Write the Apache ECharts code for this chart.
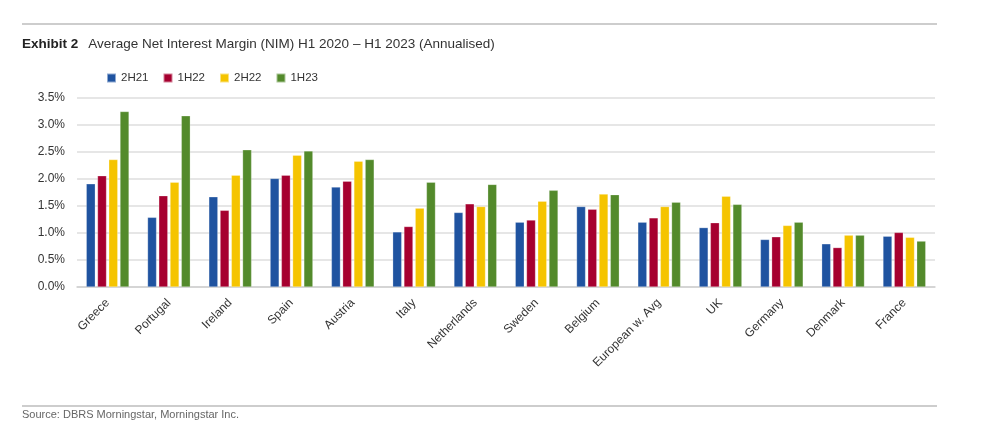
<!DOCTYPE html>
<html>
<head>
<meta charset="utf-8">
<script src="https://cdn.jsdelivr.net/npm/echarts@6/dist/echarts.min.js"></script>
<style>
html,body{margin:0;padding:0;background:#fff;}
#c{width:987px;height:438px;}
</style>
</head>
<body>
<div id="c"></div>
<script>
const categories = ["Greece","Portugal","Ireland","Spain","Austria","Italy","Netherlands","Sweden","Belgium","European w. Avg","UK","Germany","Denmark","France"];
const s2H21 = [1.91,1.29,1.67,2.01,1.85,1.02,1.38,1.20,1.49,1.20,1.10,0.88,0.80,0.94];
const s1H22 = [2.06,1.69,1.42,2.07,1.96,1.12,1.54,1.24,1.44,1.28,1.19,0.93,0.73,1.01];
const s2H22 = [2.36,1.94,2.07,2.44,2.33,1.46,1.49,1.59,1.72,1.49,1.68,1.14,0.96,0.92];
const s1H23 = [3.25,3.17,2.54,2.52,2.36,1.94,1.90,1.79,1.71,1.57,1.53,1.20,0.96,0.85];
const seriesNames = ["2H21","1H22","2H22","1H23"];
const yTicks = [0,0.5,1.0,1.5,2.0,2.5,3.0,3.5];

const FONT = "'Liberation Sans Narrow','Arial Narrow','Liberation Sans',sans-serif";
const colors = ["#1F53A0","#A6002F","#F5C400","#538A2B"];
const data = [s2H21,s1H22,s2H22,s1H23];

const chart = echarts.init(document.getElementById('c'));
chart.setOption({
  animation:false,
  textStyle:{fontFamily:FONT},
  title:{
    left:22, top:35, padding:0,
    text:"{b|Exhibit 2}  {n|Average Net Interest Margin (NIM) H1 2020 \u2013 H1 2023 (Annualised)}",
    textStyle:{fontWeight:'normal',rich:{
      b:{fontFamily:FONT,fontWeight:'bold',fontSize:13.5,color:'#222'},
      n:{fontFamily:FONT,fontWeight:'normal',fontSize:13.5,color:'#333'}
    }}
  },
  legend:{
    left:106, top:72, padding:0,
    icon:'rect', itemWidth:9, itemHeight:9, itemGap:14,
    textStyle:{fontFamily:FONT,fontSize:11.5,color:'#333'},
    data:seriesNames
  },
  graphic:[
    {type:'line',shape:{x1:22,y1:24,x2:937,y2:24},style:{stroke:'#bdbdbd',lineWidth:1.5}},
    {type:'line',shape:{x1:22,y1:406,x2:937,y2:406},style:{stroke:'#bdbdbd',lineWidth:1.5}},
    {type:'text',left:22,top:409,style:{text:'Source: DBRS Morningstar, Morningstar Inc.',font:"11px "+FONT,fill:'#666'}}
  ],
  grid:{left:77,right:52,top:98,bottom:151,containLabel:false},
  xAxis:{
    type:'category',
    data:categories,
    axisLine:{lineStyle:{color:'#cfcfcf',width:1.5}},
    axisTick:{show:false},
    axisLabel:{rotate:45,interval:0,fontFamily:FONT,fontSize:12,color:'#333',margin:14}
  },
  yAxis:{
    type:'value',
    min:0,max:3.5,interval:0.5,
    axisLine:{show:false},
    axisTick:{show:false},
    splitLine:{lineStyle:{color:'#dedede',width:1.5}},
    axisLabel:{fontFamily:FONT,fontSize:12,color:'#333',margin:12,
      formatter:v=>v.toFixed(1)+'%'}
  },
  series:seriesNames.map((n,i)=>({
    name:n,type:'bar',data:data[i],
    barWidth:9,barGap:'25%',
    itemStyle:{color:colors[i],borderColor:'rgba(255,255,255,0.5)',borderWidth:0.5}
  }))
});
</script>
</body>
</html>
